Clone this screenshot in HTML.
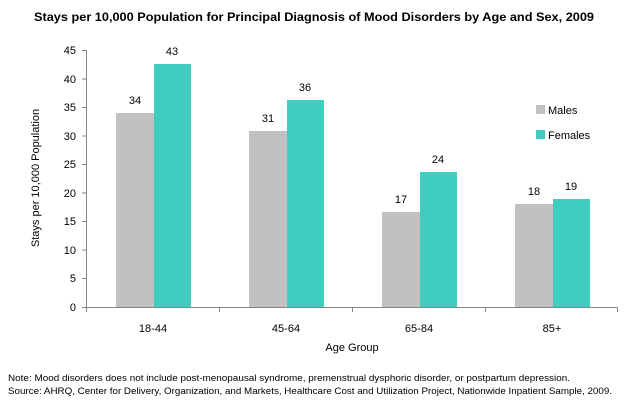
<!DOCTYPE html>
<html><head><style>body{margin:0;background:#fff}svg{display:block}text{font-family:"Liberation Sans",sans-serif;fill:#000}</style></head><body>
<svg width="628" height="405" viewBox="0 0 628 405">
<defs><pattern id="d" width="4" height="4" patternUnits="userSpaceOnUse"><rect width="4" height="4" fill="#c0c0c0"/><rect x="1" y="1" width="1" height="1" fill="#d0d0d0"/></pattern></defs>
<text x="314" y="21" text-anchor="middle" font-size="12" font-weight="bold" textLength="560" lengthAdjust="spacingAndGlyphs">Stays per 10,000  Population for Principal Diagnosis of Mood Disorders by Age and Sex, 2009</text>
<g stroke="#868686" stroke-width="1">
<line x1="86.5" y1="50" x2="86.5" y2="307"/>
<line x1="86" y1="307.5" x2="618" y2="307.5"/>
<line x1="82" y1="50.5" x2="86" y2="50.5"/><line x1="82" y1="79" x2="86" y2="79"/><line x1="82" y1="107.5" x2="86" y2="107.5"/><line x1="82" y1="136" x2="86" y2="136"/><line x1="82" y1="164.5" x2="86" y2="164.5"/><line x1="82" y1="193" x2="86" y2="193"/><line x1="82" y1="221.5" x2="86" y2="221.5"/><line x1="82" y1="250" x2="86" y2="250"/><line x1="82" y1="278.5" x2="86" y2="278.5"/><line x1="82" y1="307.5" x2="86" y2="307.5"/>
<line x1="86.5" y1="307" x2="86.5" y2="312"/><line x1="219.5" y1="307" x2="219.5" y2="312"/><line x1="352.5" y1="307" x2="352.5" y2="312"/><line x1="485.5" y1="307" x2="485.5" y2="312"/><line x1="617.5" y1="307" x2="617.5" y2="312"/>
</g>
<g font-size="11" text-anchor="end">
<text x="76" y="54">45</text><text x="76" y="83">40</text><text x="76" y="111">35</text><text x="76" y="140">30</text><text x="76" y="168">25</text><text x="76" y="197">20</text><text x="76" y="225">15</text><text x="76" y="254">10</text><text x="76" y="282">5</text><text x="76" y="311">0</text>
</g>
<g>
<rect x="116" y="113" width="38" height="194" fill="url(#d)"/><rect x="154" y="64" width="37" height="243" fill="#40cdc0"/>
<rect x="249" y="131" width="38" height="176" fill="url(#d)"/><rect x="287" y="100" width="37" height="207" fill="#40cdc0"/>
<rect x="382" y="212" width="38" height="95" fill="url(#d)"/><rect x="420" y="172" width="37" height="135" fill="#40cdc0"/>
<rect x="515" y="204" width="38" height="103" fill="url(#d)"/><rect x="553" y="199" width="37" height="108" fill="#40cdc0"/>
</g>
<g font-size="11" text-anchor="middle">
<text x="135" y="104">34</text><text x="172" y="55">43</text>
<text x="268" y="122">31</text><text x="305" y="91">36</text>
<text x="401" y="203">17</text><text x="438" y="163">24</text>
<text x="534" y="195">18</text><text x="571" y="190">19</text>
<text x="153" y="332">18-44</text><text x="286" y="332">45-64</text><text x="419" y="332">65-84</text><text x="552" y="332">85+</text>
<text x="352" y="351">Age Group</text>
</g>
<text transform="translate(39,178) rotate(-90)" font-size="11" text-anchor="middle">Stays per 10,000 Population</text>
<rect x="536" y="105" width="9" height="9" fill="url(#d)"/><text x="548" y="114" font-size="11">Males</text>
<rect x="536" y="130" width="9" height="9" fill="#40cdc0"/><text x="548" y="139" font-size="11">Females</text>
<text x="8" y="381" font-size="9" textLength="562" lengthAdjust="spacingAndGlyphs">Note: Mood disorders does not include post-menopausal syndrome, premenstrual dysphoric disorder, or postpartum depression.</text>
<text x="8" y="394" font-size="9" textLength="604" lengthAdjust="spacingAndGlyphs">Source: AHRQ, Center for Delivery, Organization, and Markets, Healthcare Cost and Utilization Project, Nationwide Inpatient Sample, 2009.</text>
</svg>
</body></html>
